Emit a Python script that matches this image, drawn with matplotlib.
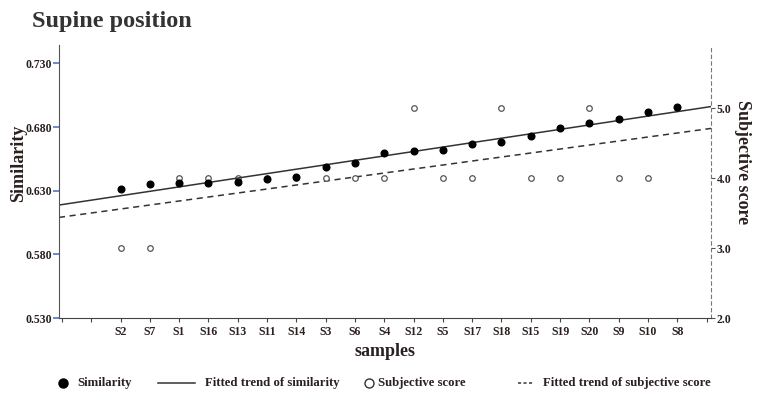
import matplotlib
matplotlib.use("Agg")
import matplotlib.pyplot as plt
from matplotlib.lines import Line2D
import numpy as np

samples = ["S2", "S7", "S1", "S16", "S13", "S11", "S14", "S3", "S6", "S4",
           "S12", "S5", "S17", "S18", "S15", "S19", "S20", "S9", "S10", "S8"]
similarity = [0.631, 0.635, 0.636, 0.636, 0.637, 0.6395, 0.641, 0.649, 0.652, 0.6595,
              0.661, 0.662, 0.6665, 0.668, 0.673, 0.679, 0.6835, 0.686, 0.6915, 0.6955]
subjective = [3, 3, 4, 4, 4, 4, 4, 4, 4, 4,
              5, 4, 4, 5, 4, 4, 5, 4, 4, 5]
left_ticks = [0.530, 0.580, 0.630, 0.680, 0.730]
right_ticks = [2.0, 3.0, 4.0, 5.0]
legend_labels = ["Similarity", "Fitted trend of similarity", "Subjective score",
                 "Fitted trend of subjective score"]

TXT = "#2b2020"
plt.rcParams["font.family"] = ["Liberation Serif", "DejaVu Serif"]
plt.rcParams["font.weight"] = "bold"

W, H = 760, 403
fig = plt.figure(figsize=(7.6, 4.03), dpi=100)
ax = fig.add_axes([0.0776, 0.2109, 0.8579, 0.6774])
ax2 = ax.twinx()

x = np.arange(2, 2 + len(samples))
xlim = (-0.1, 22.15)

# trends
xs = np.array(xlim)
p1 = np.polyfit(x, similarity, 1)
p2 = np.polyfit(x, subjective, 1)
ax.plot(xs, np.polyval(p1, xs), color="#333333", lw=1.1, zorder=2)
ax2.plot(xs, np.polyval(p2, xs), color="#333333", lw=1.1, ls=(0, (4, 3)), zorder=2)

ax2.scatter(x, subjective, s=16, facecolors="white", edgecolors="#555555", linewidths=0.9, zorder=3)
ax.scatter(x, similarity, s=23, color="black", zorder=4)
ax.set_zorder(ax2.get_zorder() + 1)
ax.patch.set_visible(False)

ax.set_xlim(*xlim)
ax.set_ylim(0.530, 0.7445)
ax2.set_ylim(2.0, 5.9)

ax.set_xticks(np.arange(0, 23))
ax.set_xticklabels(["", ""] + samples + [""])
ax.set_yticks(left_ticks)
ax.set_yticklabels([f"{v:.3f}" for v in left_ticks])
ax2.set_yticks(right_ticks)
ax2.set_yticklabels([f"{v:.1f}" for v in right_ticks])

for a in (ax, ax2):
    for s in a.spines.values():
        s.set_visible(False)
ax.spines["left"].set_visible(True)
ax.spines["left"].set_color("#555555")
ax.spines["bottom"].set_visible(True)
ax.spines["bottom"].set_color("#444444")
ax2.spines["right"].set_visible(True)
ax2.spines["right"].set_color("#777777")
ax2.spines["right"].set_linestyle((0, (3, 3)))

ax.tick_params(axis="y", colors="#5577bb", length=4, width=1.2, labelsize=8.5, labelcolor=TXT, pad=1)
ax.tick_params(axis="x", color="#444444", length=3, width=0.8, labelsize=8.5, labelcolor=TXT, pad=2.5)
ax2.tick_params(axis="y", color="#555555", length=3, width=0.8, labelsize=8.5, labelcolor=TXT, pad=1)
for lab in ax.get_xticklabels() + ax.get_yticklabels() + ax2.get_yticklabels():
    lab.set_fontweight("bold")

ax.set_ylabel("Similarity", fontsize=13, fontweight="bold", color=TXT, labelpad=-1.5)
ax.set_xlabel("samples", fontsize=13, fontweight="bold", color=TXT, labelpad=4)
ax2.set_ylabel("Subjective score", fontsize=13, fontweight="bold", color=TXT, rotation=270, labelpad=14)
ax.yaxis.label.set_y(0.568)
ax2.yaxis.label.set_y(0.572)

fig.text(32 / W, 1 - 22 / H, "Supine position", fontsize=17.5, fontweight="bold",
         color="#333333", va="center", ha="left")

# manual legend row
ly = 1 - 383 / H
fig.add_artist(Line2D([63 / W], [ly], ls="none", marker="o", color="black", markersize=6.5))
fig.add_artist(Line2D([158 / W, 195 / W], [ly, ly], color="#333333", lw=1.1))
fig.add_artist(Line2D([369 / W], [ly], ls="none", marker="o", markerfacecolor="white",
                      markeredgecolor="#333333", markeredgewidth=1.0, markersize=6.5))
fig.add_artist(Line2D([518 / W, 534 / W], [ly, ly], color="#333333", lw=1.1, ls=(0, (2, 1.6))))
for tx, lab in zip([77, 205, 378, 543], legend_labels):
    fig.text(tx / W, ly, lab, fontsize=9.2, fontweight="bold", color=TXT, va="center", ha="left")

fig.savefig("out.png", dpi=100)
